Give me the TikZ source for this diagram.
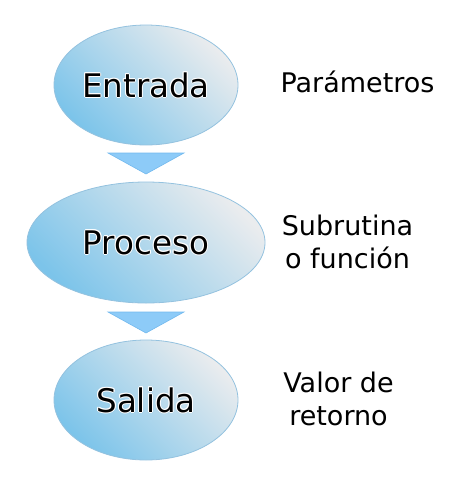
\documentclass[tikz,border=0pt]{standalone}
\usepackage{fontspec}
\setmainfont{DejaVu Sans}
\usetikzlibrary{shapes.geometric}
\definecolor{ellblue}{HTML}{7CC4EA}
\definecolor{ellmid}{HTML}{AAC9DB}
\definecolor{ellgray}{HTML}{EAECEE}
\definecolor{ellline}{HTML}{94C2DF}
\definecolor{trifill}{HTML}{8DCBF8}
\definecolor{triline}{HTML}{72B9EE}
\newcommand\glowcopy[3]{\rlap{\kern#1\raisebox{#2}{\textcolor{white}{#3}}}}
\newcommand\glowtxt[1]{%
  \glowcopy{1pt}{0pt}{#1}\glowcopy{-1pt}{0pt}{#1}%
  \glowcopy{0pt}{1pt}{#1}\glowcopy{0pt}{-1pt}{#1}%
  \glowcopy{0.7pt}{0.7pt}{#1}\glowcopy{-0.7pt}{0.7pt}{#1}%
  \glowcopy{0.7pt}{-0.7pt}{#1}\glowcopy{-0.7pt}{-0.7pt}{#1}%
  #1}
\begin{document}
\begin{tikzpicture}[x=1pt,y=-1pt,
  stage/.style={ellipse, inner sep=0pt, draw=ellline, line width=0.8pt,
    bottom color=ellblue, middle color=ellmid, top color=ellgray, shading angle=-45,
    font=\fontsize{32.5}{37}\selectfont},
  note/.style={anchor=base, align=center, font=\fontsize{27}{33}\selectfont},
  flowtri/.style={fill=trifill, draw=triline, line width=0.6pt, line join=miter}]
\useasboundingbox (0,0) rectangle (460,480);
\node[stage, minimum width=184pt, minimum height=120pt] (e1) at (146,85) {\glowtxt{Entrada}};
\node[stage, minimum width=238pt, minimum height=121pt] (e2) at (146,242.5) {\glowtxt{Proceso}};
\node[stage, minimum width=184pt, minimum height=120pt] (e3) at (146,400) {\glowtxt{Salida}};
\draw[flowtri] (108,153) -- (184,153) -- (146,174) -- cycle;
\draw[flowtri] (108,312) -- (184,312) -- (146,333) -- cycle;
\node[note] (n1) at (357.5,92) {Parámetros};
\node[note] (n2) at (347.5,268) {Subrutina\\o función};
\node[note] (n3) at (338.5,425) {Valor de\\retorno};
\end{tikzpicture}
\end{document}
